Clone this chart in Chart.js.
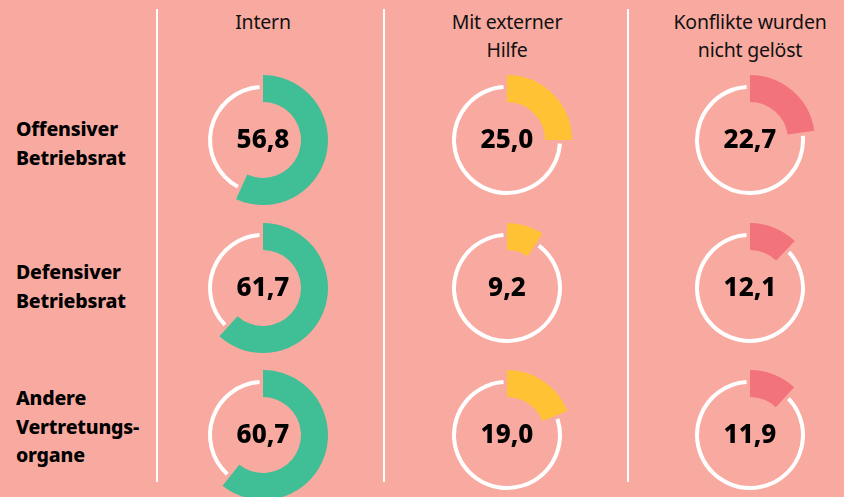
<!DOCTYPE html>
<html>
<head>
<meta charset="utf-8">
<script src="https://cdn.jsdelivr.net/npm/chart.js@4"></script>
<style>
  html, body { margin: 0; padding: 0; }
  body { width: 844px; height: 497px; background: #f9aaa0; position: relative; overflow: hidden; font-family: "Noto Sans", sans-serif; }
  .vline { position: absolute; top: 9px; height: 473px; width: 1.5px; background: #fff; }
  .head { position: absolute; width: 240px; text-align: center; font-size: 19.5px; line-height: 28px; color: #111; top: 8px; letter-spacing: -0.2px; }
  .row { position: absolute; left: 16px; font-weight: 800; font-size: 19.5px; line-height: 28.5px; color: #000; letter-spacing: -0.2px; }
  .cell { position: absolute; width: 130px; height: 130px; }
</style>
</head>
<body>
<div class="vline" style="left:156px"></div>
<div class="vline" style="left:383px"></div>
<div class="vline" style="left:627px"></div>
<div id="heads"></div>
<div id="rows"></div>
<div id="cells"></div>
<script>
// Werte in Prozent
let spalten = ['Intern', 'Mit externer\nHilfe', 'Konflikte wurden\nnicht gelöst'];
let zeilen = ['Offensiver\nBetriebsrat', 'Defensiver\nBetriebsrat', 'Andere\nVertretungs-\norgane'];
let intern = [56.8, 61.7, 60.7];
let extern = [25.0, 9.2, 19.0];
let nichtGeloest = [22.7, 12.1, 11.9];
let farben = ['#40be96', '#ffc235', '#f2737b'];

let serien = [intern, extern, nichtGeloest];
let spaltenX = [263, 507, 750];
let zeilenY = [140, 288, 435];
let zeilenTop = [115, 258, 384];

spalten.forEach(function (s, i) {
  let d = document.createElement('div');
  d.className = 'head';
  d.style.left = (spaltenX[i] - 120) + 'px';
  d.innerHTML = s.replace('\n', '<br>');
  document.getElementById('heads').appendChild(d);
});
zeilen.forEach(function (z, i) {
  let d = document.createElement('div');
  d.className = 'row';
  d.style.top = zeilenTop[i] + 'px';
  d.innerHTML = z.split('\n').join('<br>');
  document.getElementById('rows').appendChild(d);
});

// weisser Ring fuer den Rest: schmaler und mit kleiner Luecke
const ringPlugin = {
  id: 'ring',
  afterDatasetsUpdate(chart) {
    let meta = chart.getDatasetMeta(0);
    let rest = meta.data[1];
    let outer = meta.data[0].outerRadius;
    let gap = 3.5 / 53;
    rest.outerRadius = outer * 55 / 65;
    rest.innerRadius = outer * 51 / 65;
    rest.startAngle += gap;
    rest.endAngle -= gap;
  }
};
const textPlugin = {
  id: 'mitte',
  afterDraw(chart) {
    let ctx = chart.ctx;
    let a = chart.getDatasetMeta(0).data[0];
    let v = chart.data.datasets[0].data[0];
    ctx.save();
    ctx.font = '800 26px "Noto Sans"';
    ctx.fillStyle = '#000';
    ctx.textAlign = 'center';
    ctx.textBaseline = 'middle';
    ctx.fillText(v.toFixed(1).replace('.', ','), a.x, a.y + 1);
    ctx.restore();
  }
};

serien.forEach(function (werte, c) {
  werte.forEach(function (w, r) {
    let div = document.createElement('div');
    div.className = 'cell';
    div.style.left = (spaltenX[c] - 65) + 'px';
    div.style.top = (zeilenY[r] - 65) + 'px';
    let cv = document.createElement('canvas');
    div.appendChild(cv);
    document.getElementById('cells').appendChild(div);
    new Chart(cv, {
      type: 'doughnut',
      data: {
        labels: ['Wert', 'Rest'],
        datasets: [{
          data: [w, 100 - w],
          backgroundColor: [farben[c], '#ffffff'],
          borderWidth: 0
        }]
      },
      options: {
        responsive: true,
        maintainAspectRatio: false,
        animation: false,
        cutout: (38 / 65 * 100) + '%',
        layout: { padding: 0 },
        plugins: { legend: { display: false }, tooltip: { enabled: false } },
        events: []
      },
      plugins: [ringPlugin, textPlugin]
    });
  });
});
</script>
</body>
</html>
